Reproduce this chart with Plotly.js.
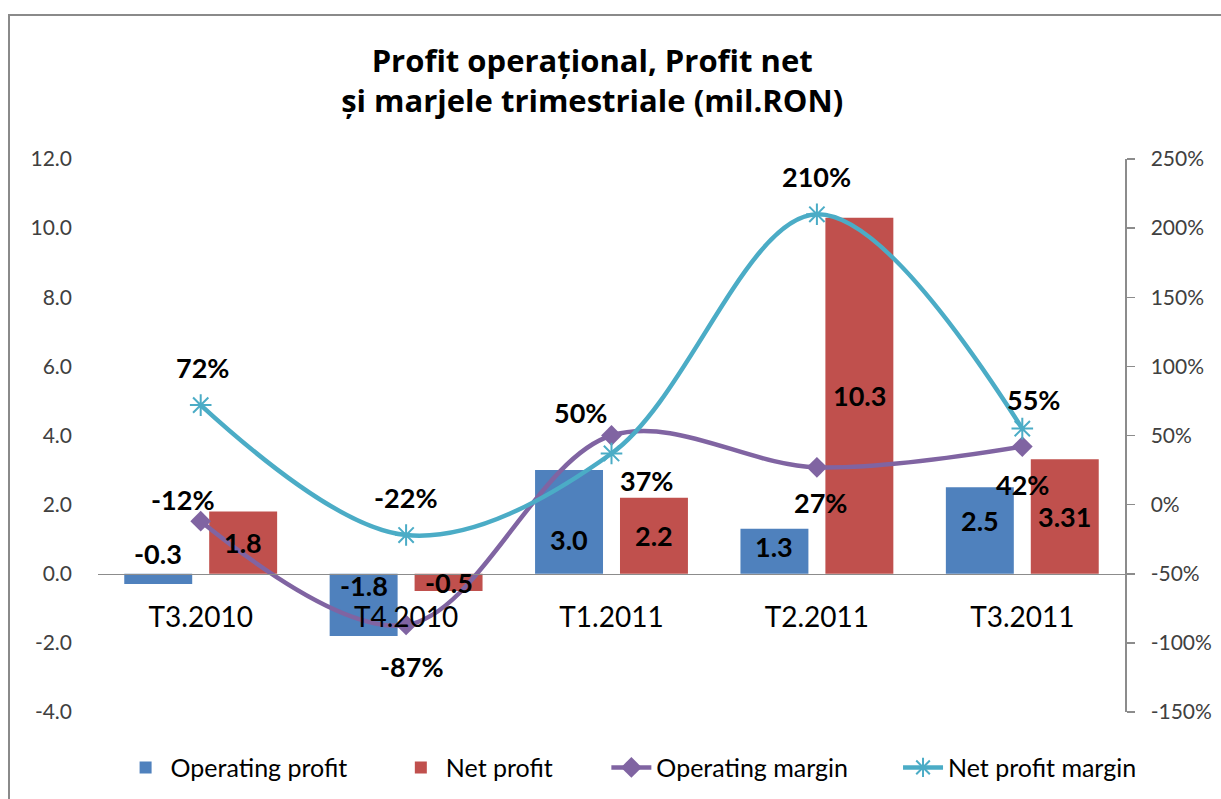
<!DOCTYPE html>
<html>
<head>
<meta charset="utf-8">
<script src="https://cdn.plot.ly/plotly-3.0.1.min.js"></script>
<style>
  html, body { margin: 0; padding: 0; background: #fff; overflow: hidden; }
  #wrap { position: relative; width: 1221px; height: 799px; }
  #chart { position: absolute; left: 0; top: 0; width: 1221px; height: 799px; }
  #frame { position: absolute; left: 8px; top: 14px; width: 1300px; height: 900px;
           border-left: 2px solid #8a8a8a; border-top: 2px solid #8a8a8a; pointer-events: none; }
</style>
</head>
<body>
<div id="wrap">
  <div id="chart"></div>
  <div id="frame"></div>
</div>
<script>
// ---- data ----
const categories = ["T3.2010", "T4.2010", "T1.2011", "T2.2011", "T3.2011"];
const operatingProfit = [-0.3, -1.8, 3.0, 1.3, 2.5];
const netProfit = [1.8, -0.5, 2.2, 10.3, 3.31];
const operatingMargin = [-12, -87, 50, 27, 42];     // %
const netProfitMargin = [72, -22, 37, 210, 55];      // %
const operatingProfitLabels = ["-0.3", "-1.8", "3.0", "1.3", "2.5"];
const netProfitLabels = ["1.8", "-0.5", "2.2", "10.3", "3.31"];
const leftTicks = [-4, -2, 0, 2, 4, 6, 8, 10, 12];
const rightTicks = [-150, -100, -50, 0, 50, 100, 150, 200, 250];

// ---- label offsets (pixels) ----
const opLabelShift = [25, 19, -18, 5, 10];
const opMarginShift = [[-18, 22], [6, -42], [-31, 23], [4, -35], [0, -38]];
const npMarginShift = [[2, 38], [0, 38], [35, -27], [0, 38], [11, 29]];

const FONT = "Lato, 'Open Sans', 'DejaVu Sans', sans-serif";
const blue = "#4F81BD", red = "#C0504D", purple = "#8064A2", cyan = "#4BACC6";

const traces = [
  { type: "bar", name: "Operating profit", x: categories, y: operatingProfit,
    marker: { color: blue }, hoverinfo: "x+y", legend: "legend" },
  { type: "bar", name: "Net profit", x: categories, y: netProfit,
    marker: { color: red }, hoverinfo: "x+y", legend: "legend2" },
  { type: "scatter", mode: "lines+markers", name: "Operating margin", x: categories, y: operatingMargin,
    yaxis: "y2", line: { color: purple, width: 4.5, shape: "spline", smoothing: 1 },
    marker: { symbol: "diamond", size: 16, color: purple }, legend: "legend3" },
  { type: "scatter", mode: "lines+markers", name: "Net profit margin", x: categories, y: netProfitMargin,
    yaxis: "y2", line: { color: cyan, width: 4.5, shape: "spline", smoothing: 1 },
    marker: { symbol: "asterisk-open", size: 18, color: cyan, line: { color: cyan, width: 2 } }, legend: "legend4" }
];

const labelFont = { family: FONT, size: 27, color: "#000", weight: "bold" };
const annotations = [];
categories.forEach((c, i) => {
  annotations.push({ x: c, y: operatingProfit[i] / 2, xref: "x", yref: "y", text: "<b>" + operatingProfitLabels[i] + "</b>",
    showarrow: false, xshift: -42.5, yshift: opLabelShift[i], font: labelFont });
  annotations.push({ x: c, y: netProfit[i] / 2, xref: "x", yref: "y", text: "<b>" + netProfitLabels[i] + "</b>",
    showarrow: false, xshift: 42.5, yshift: 0, font: labelFont });
  annotations.push({ x: c, y: operatingMargin[i], xref: "x", yref: "y2", text: "<b>" + operatingMargin[i] + "%</b>",
    showarrow: false, xshift: opMarginShift[i][0], yshift: opMarginShift[i][1], font: labelFont });
  annotations.push({ x: c, y: netProfitMargin[i], xref: "x", yref: "y2", text: "<b>" + netProfitMargin[i] + "%</b>",
    showarrow: false, xshift: npMarginShift[i][0], yshift: npMarginShift[i][1], font: labelFont });
});

function legendAt(x) {
  return { orientation: "h", x: x, xanchor: "left", y: -0.059, yanchor: "top",
    font: { family: FONT, size: 25, color: "#000" }, itemwidth: 40, bgcolor: "rgba(0,0,0,0)" };
}

const layout = {
  width: 1221, height: 799,
  margin: { l: 98, r: 96, t: 159, b: 87, autoexpand: false },
  paper_bgcolor: "rgba(0,0,0,0)", plot_bgcolor: "rgba(0,0,0,0)",
  font: { family: FONT, color: "#404040" },
  title: { text: "<b>Profit operațional, Profit net<br>și marjele trimestriale (mil.RON)</b>",
    font: { family: "'Open Sans', Lato, sans-serif", size: 31, color: "#000" }, x: 0.485, xanchor: "center",
    yref: "container", y: 0.91, yanchor: "top" },
  barmode: "group", bargap: 0.173, bargroupgap: 0.2,
  xaxis: { type: "category", anchor: "free", position: 0.25, showline: true, linecolor: "#8c8c8c", linewidth: 1.5,
    ticks: "outside", ticklen: 18, tickcolor: "rgba(0,0,0,0)", showgrid: false, zeroline: false,
    tickfont: { family: FONT, size: 28, color: "#000" }, fixedrange: true },
  yaxis: { range: [-4, 12], tickvals: leftTicks, ticktext: leftTicks.map(v => v.toFixed(1)),
    showgrid: false, zeroline: false, showline: false, ticks: "", ticklabelstandoff: 25,
    tickfont: { family: FONT, size: 21, color: "#404040" }, fixedrange: true },
  yaxis2: { overlaying: "y", side: "right", range: [-150, 250], tickvals: rightTicks,
    ticktext: rightTicks.map(v => v + "%"), showgrid: false, zeroline: false, showline: true,
    linecolor: "#8c8c8c", linewidth: 1.5, ticks: "outside", ticklen: 8, tickcolor: "#8c8c8c", tickwidth: 1.5,
    ticklabelstandoff: 12,
    tickfont: { family: FONT, size: 21, color: "#404040" }, fixedrange: true },
  legend: legendAt(0.022),
  legend2: legendAt(0.290),
  legend3: legendAt(0.495),
  legend4: legendAt(0.779),
  annotations: annotations,
  showlegend: true
};

Plotly.newPlot("chart", traces, layout, { displayModeBar: false, staticPlot: true });
</script>
</body>
</html>
